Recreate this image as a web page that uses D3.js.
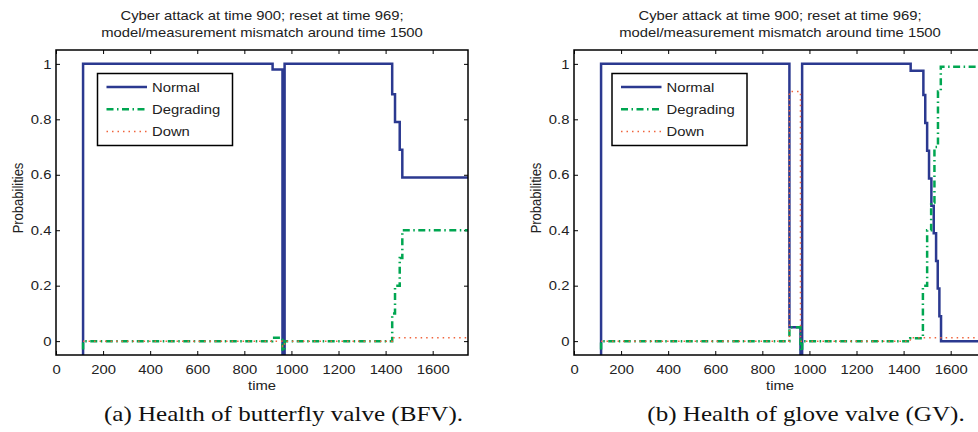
<!DOCTYPE html>
<html>
<head>
<meta charset="utf-8">
<script src="https://cdnjs.cloudflare.com/ajax/libs/d3/7.8.5/d3.min.js"></script>
<style>
body { margin:0; background:#fff; }
svg text { font-family: "Liberation Sans", Arial, Helvetica, sans-serif; font-size:13px; fill:#222; }
</style>
</head>
<body>
<script>
// chart data
var titleLines = ["Cyber attack at time 900; reset at time 969;", "model/measurement mismatch around time 1500"];
var seriesNames = ["Normal", "Degrading", "Down"];
var xTicks = [0, 200, 400, 600, 800, 1000, 1200, 1400, 1600];
var yTicks = [0, 0.2, 0.4, 0.6, 0.8, 1];
var yTickLabels = ["0", "0.2", "0.4", "0.6", "0.8", "1"];
var xDomain = [0, 1750];
var yDomain = [-0.05, 1.05];
var captions = ["(a) Health of butterfly valve (BFV).", "(b) Health of glove valve (GV)."];

// [time, probability] step points
var bfvNormal = [[115,-0.05],[115,1],[920,0.98],[962,-0.05],[971,1],[1428,0.89],[1440,0.79],[1460,0.69],[1471,0.59],[1750,0.59]];
var bfvDegrading = [[115,-0.03],[115,0],[918,0.012],[962,-0.035],[971,0],[1428,0.1],[1440,0.2],[1460,0.3],[1471,0.4],[1750,0.4]];
var bfvDown = [[115,0],[962,-0.02],[971,0],[1428,0.012],[1750,0.012]];

var gvNormal = [[115,-0.05],[115,1],[915,0.05],[962,-0.05],[969,1],[1430,0.975],[1484,0.888],[1492,0.787],[1500,0.687],[1508,0.587],[1518,0.488],[1528,0.389],[1538,0.289],[1545,0.19],[1552,0.09],[1559,0],[1750,0]];
var gvDegrading = [[115,-0.03],[115,0],[915,0.05],[962,-0.035],[969,0],[1428,0.01],[1482,0.2],[1500,0.4],[1517,0.5],[1531,0.7],[1546,0.9],[1558,0.99],[1750,0.99]];
var gvDown = [[115,0],[915,0.9],[962,0],[1428,0.012],[1750,0.012]];

var colors = ["#2b3990", "#00a651", "#f0643c"];
var widths = [2.5, 2.5, 1.5];
var dashes = [null, "7,3.5,1.5,3.5", "1.5,4"];
var sx = 1.14; // the figure text is a little wide

var width = 978, height = 432;
var plotW = 412, plotH = 305, plotTop = 50;

var svg = d3.select("body").append("svg").attr("width", width).attr("height", height);

var x = d3.scaleLinear().domain(xDomain).range([0, plotW]);
var y = d3.scaleLinear().domain(yDomain).range([plotH, 0]);

var line = d3.line()
    .x(function(d){ return x(d[0]); })
    .y(function(d){ return y(d[1]); })
    .curve(d3.curveStepAfter);

function drawPanel(idx, left, series, capX){
  var g = svg.append("g").attr("transform", "translate(" + left + "," + plotTop + ")");

  g.append("clipPath").attr("id", "clip" + idx)
    .append("rect").attr("width", plotW).attr("height", plotH);

  // titles
  titleLines.forEach(function(t, i){
    svg.append("text")
      .attr("transform", "translate(" + (left + plotW / 2) + "," + (20 + i * 17) + ") scale(" + sx + ",1)")
      .attr("text-anchor", "middle")
      .text(t);
  });

  // ticks, inside the box on all sides
  g.append("g").attr("transform", "translate(0," + plotH + ")")
    .call(d3.axisBottom(x).tickValues(xTicks).tickFormat(d3.format("d"))
      .tickSizeInner(-4).tickSizeOuter(0).tickPadding(10));
  g.append("g")
    .call(d3.axisLeft(y).tickValues(yTicks).tickFormat(function(d, i){ return yTickLabels[i]; })
      .tickSizeInner(-4).tickSizeOuter(0).tickPadding(4));
  g.append("g").call(d3.axisTop(x).tickValues(xTicks).tickSizeInner(-4).tickSizeOuter(0).tickFormat(""));
  g.append("g").attr("transform", "translate(" + plotW + ",0)")
    .call(d3.axisRight(y).tickValues(yTicks).tickSizeInner(-4).tickSizeOuter(0).tickFormat(""));
  g.selectAll(".domain").remove();
  g.selectAll(".tick line").attr("stroke", "#000").attr("stroke-width", 1);
  g.selectAll(".tick text").attr("font-size", 13).attr("fill", "#222")
    .attr("font-family", "Liberation Sans, Arial, sans-serif")
    .attr("transform", "scale(" + sx + ",1)");

  // series
  var lines = g.append("g").attr("clip-path", "url(#clip" + idx + ")");
  series.forEach(function(s, i){
    lines.append("path")
      .attr("d", line(s))
      .attr("fill", "none")
      .attr("stroke", colors[i])
      .attr("stroke-width", widths[i])
      .attr("stroke-dasharray", dashes[i]);
  });

  g.append("rect").attr("width", plotW).attr("height", plotH)
    .attr("fill", "none").attr("stroke", "#000").attr("stroke-width", 1.5);

  // legend
  var lg = g.append("g").attr("transform", "translate(" + (idx == 0 ? 41.5 : 38) + ",23.5)");
  lg.append("rect").attr("width", 135).attr("height", 72)
    .attr("fill", "#fff").attr("stroke", "#000").attr("stroke-width", 1.5);
  seriesNames.forEach(function(n, i){
    var ry = 13.5 + i * 22.3;
    lg.append("line").attr("x1", 9).attr("x2", 49.5).attr("y1", ry).attr("y2", ry)
      .attr("stroke", colors[i]).attr("stroke-width", widths[i]).attr("stroke-dasharray", dashes[i]);
    lg.append("text")
      .attr("transform", "translate(54.5," + (ry + 4.8) + ") scale(" + sx + ",1)")
      .text(n);
  });

  // axis labels
  svg.append("text")
    .attr("transform", "translate(" + (left + plotW / 2) + ",389.5) scale(" + sx + ",1)")
    .attr("text-anchor", "middle")
    .text("time");
  svg.append("text")
    .attr("transform", "translate(" + (left - 33) + ",198) scale(" + sx + ",1) rotate(-90)")
    .attr("text-anchor", "middle")
    .text("Probabilities");

  // caption
  svg.append("text")
    .attr("transform", "translate(" + capX + ",421) scale(" + sx + ",1)")
    .attr("text-anchor", "middle")
    .style("font-family", "'Liberation Serif', 'Times New Roman', serif")
    .style("font-size", "22px")
    .style("fill", "#111")
    .text(captions[idx]);
}

drawPanel(0, 56, [bfvNormal, bfvDegrading, bfvDown], 283.5);
drawPanel(1, 574, [gvNormal, gvDegrading, gvDown], 806);
</script>
</body>
</html>
